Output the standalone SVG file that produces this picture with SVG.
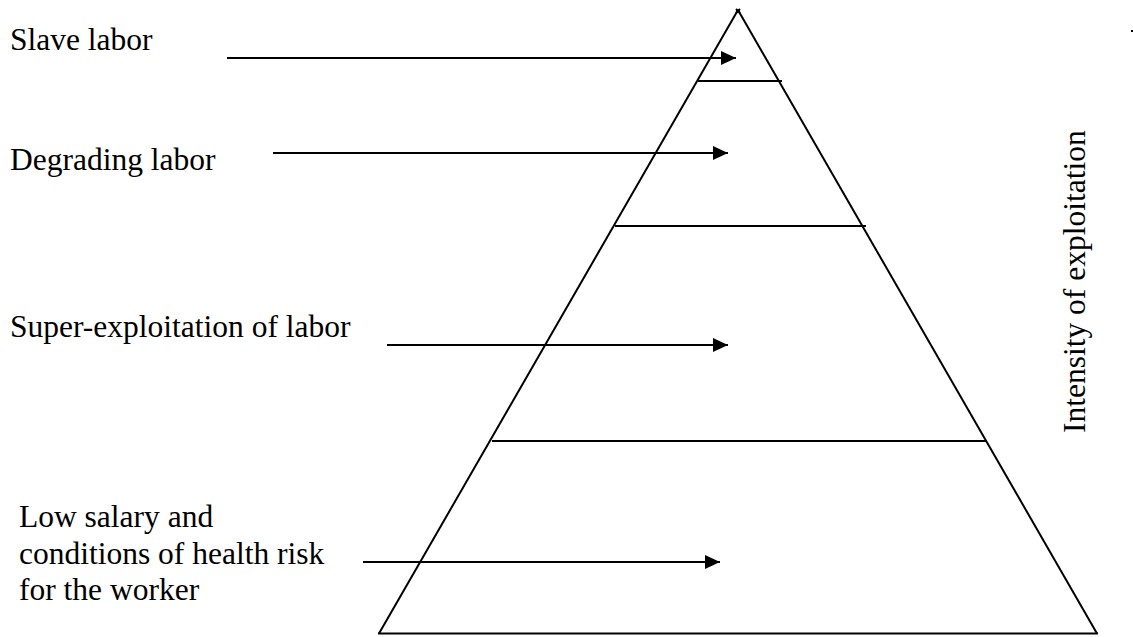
<svg xmlns="http://www.w3.org/2000/svg" width="1133" height="637" viewBox="0 0 1133 637">
  <style>
    .edge { stroke: #000; stroke-width: 2; fill: none; }
    .arrow { stroke: #000; stroke-width: 2; fill: none; marker-end: url(#ah); }
  </style>
  <defs>
    <marker id="ah" viewBox="0 0 15 14" refX="15" refY="7" markerWidth="15" markerHeight="14" markerUnits="userSpaceOnUse" orient="auto">
      <path d="M0,0 L15,7 L0,14 Z" fill="#000"/>
    </marker>
  </defs>
  <rect width="1133" height="637" fill="#fff"/>

  <g id="pyramid">
    <line class="edge" x1="379" y1="633.5" x2="738" y2="10"/>
    <line class="edge" x1="1097" y1="633.5" x2="738" y2="10"/>
    <line class="edge" x1="736" y1="9" x2="740" y2="13"/>
    <line class="edge" x1="740" y1="9" x2="736" y2="13"/>
    <line class="edge" x1="378" y1="633.5" x2="1098" y2="633.5"/>
    <line class="edge" x1="698" y1="81" x2="782" y2="81"/>
    <line class="edge" x1="615" y1="226" x2="866" y2="226"/>
    <line class="edge" x1="492" y1="441" x2="987" y2="441"/>
  </g>

  <g font-family="Liberation Serif, Tinos, Times New Roman, Times, DejaVu Serif, serif" font-size="31.5" fill="#000">
    <g id="slave">
      <text x="10" y="50">Slave labor</text>
    </g>
    <g id="degrading">
      <text x="10" y="170">Degrading labor</text>
    </g>
    <g id="super">
      <text x="10" y="337">Super-exploitation of labor</text>
    </g>
    <g id="low">
      <text x="19" y="527">Low salary and</text>
      <text x="19" y="563.5">conditions of health risk</text>
      <text x="19" y="600">for the worker</text>
    </g>
    <g id="axis">
      <text transform="translate(1085,433) rotate(-90)" x="0" y="0">Intensity of exploitation</text>
    </g>
  </g>
  <g id="mark">
    <line x1="1131" y1="31" x2="1133" y2="31" stroke="#000" stroke-width="2"/>
  </g>

  <g id="connectors">
    <line class="arrow" x1="227" y1="58" x2="736" y2="58"/>
    <line class="arrow" x1="273" y1="153" x2="728" y2="153"/>
    <line class="arrow" x1="387" y1="345" x2="728" y2="345"/>
    <line class="arrow" x1="363" y1="562" x2="720" y2="562"/>
  </g>
</svg>
